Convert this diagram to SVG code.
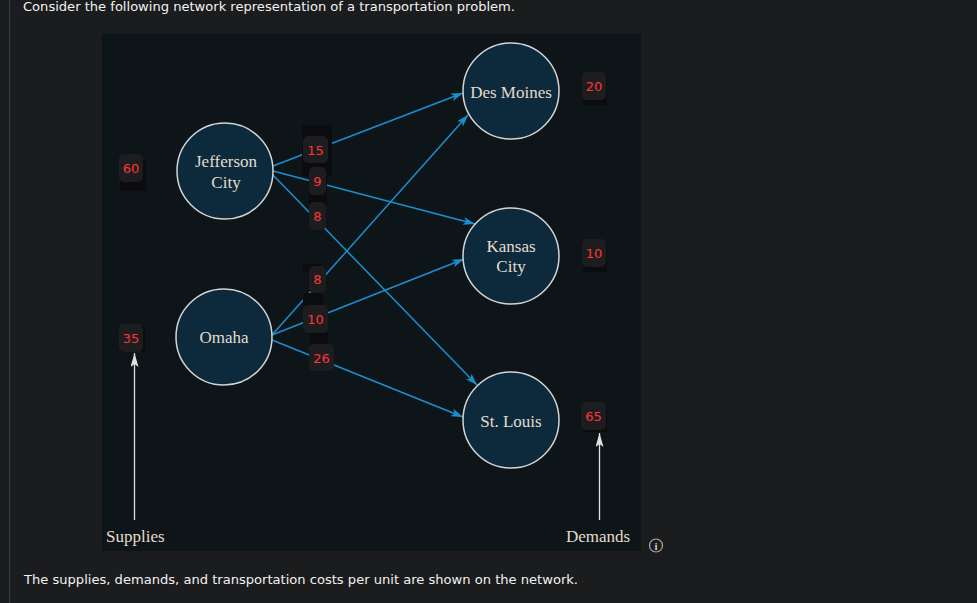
<svg xmlns="http://www.w3.org/2000/svg" width="977" height="603" viewBox="0 0 977 603">
<defs>
<style>
.page{fill:#1b1c1e}
.panel{fill:#0e1518}
.ui{font-family:"DejaVu Sans","Liberation Sans",sans-serif;font-size:13px;fill:#f2f2f2}
.node circle{fill:#0d2a3c;stroke:#d4d4d4;stroke-width:1.5}
.node text{font-family:"Liberation Serif",serif;font-size:17px;fill:#e4dccb;text-anchor:middle}
.edge{stroke:#1a8fd0;stroke-width:1.5;fill:none;marker-end:url(#ah)}
.lblbg{fill:#0b0c0d}
.lbl{fill:#1d1d1f}
.num{font-family:"DejaVu Sans","Liberation Sans",sans-serif;font-size:13px;fill:#ff3535;text-anchor:middle}
.gray{stroke:#e0e0e0;stroke-width:1.3;marker-end:url(#gh)}
.cap{font-family:"Liberation Serif",serif;font-size:17px;fill:#e4dccb}
</style>
<marker id="ah" viewBox="0 0 12 8" refX="12" refY="4" markerWidth="12" markerHeight="8" markerUnits="userSpaceOnUse" orient="auto">
<path d="M0,0 L12,4 L0,8 L3,4 z" fill="#1a8fd0"/>
</marker>
<marker id="gh" viewBox="0 0 14 8" refX="14" refY="4" markerWidth="14" markerHeight="8" markerUnits="userSpaceOnUse" orient="auto">
<path d="M0,0 L14,4 L0,8 L3,4 z" fill="#e0e0e0"/>
</marker>
</defs>
<rect class="page" x="0" y="0" width="977" height="603"/>
<line x1="9.5" y1="0" x2="9.5" y2="603" stroke="#3a3a3c" stroke-width="1"/>
<text class="ui" x="23" y="10.5" textLength="492" lengthAdjust="spacingAndGlyphs">Consider the following network representation of a transportation problem.</text>
<rect class="panel" x="102" y="34" width="539" height="517"/>

<g id="connectors">
<path class="edge" d="M273,166 L463,93"/>
<path class="edge" d="M273,171 L475,224"/>
<path class="edge" d="M273,175 L477,385"/>
<path class="edge" d="M272,335 L468,115"/>
<path class="edge" d="M272,335 L464,259"/>
<path class="edge" d="M272,340 L463,417"/>
<line class="gray" x1="134.5" y1="520" x2="134.5" y2="353"/>
<line class="gray" x1="599.5" y1="520" x2="599.5" y2="433"/>
</g>

<g id="edge-labels">
<g id="c-jc-dm"><rect class="lblbg" x="302" y="125" width="30" height="52"/><rect class="lbl" x="303" y="136" width="25" height="27" rx="5"/><text class="num" x="315.5" y="154.5">15</text></g>
<g id="c-jc-kc"><rect class="lblbg" x="309" y="172" width="18" height="33"/><rect class="lbl" x="309" y="167" width="17" height="28" rx="5"/><text class="num" x="317.5" y="186">9</text></g>
<g id="c-jc-sl"><rect class="lbl" x="309" y="202" width="17" height="28" rx="5"/><text class="num" x="317.5" y="221">8</text></g>
<g id="c-om-dm"><rect class="lblbg" x="303" y="264" width="18" height="8"/><rect class="lblbg" x="303" y="293" width="20" height="13"/><rect class="lbl" x="309" y="266" width="17" height="27" rx="5"/><text class="num" x="317.5" y="284">8</text></g>
<g id="c-om-kc"><rect class="lblbg" x="310" y="332" width="18" height="13"/><rect class="lbl" x="303" y="305" width="25" height="28" rx="5"/><text class="num" x="315.5" y="324">10</text></g>
<g id="c-om-sl"><rect class="lbl" x="309" y="344" width="25" height="27" rx="5"/><text class="num" x="321.5" y="362.5">26</text></g>
</g>

<g id="node-jefferson" class="node"><circle cx="225" cy="171" r="48"/><text x="226" y="167">Jefferson</text><text x="226" y="188">City</text></g>
<g id="node-omaha" class="node"><circle cx="224" cy="337" r="48"/><text x="224" y="343">Omaha</text></g>
<g id="node-desmoines" class="node"><circle cx="511" cy="91" r="48"/><text x="511" y="98">Des Moines</text></g>
<g id="node-kansas" class="node"><circle cx="511" cy="256" r="48"/><text x="511" y="252">Kansas</text><text x="511" y="272">City</text></g>
<g id="node-stlouis" class="node"><circle cx="511" cy="420" r="48"/><text x="511" y="427">St. Louis</text></g>

<g id="supply-60"><rect class="lblbg" x="120" y="160" width="26" height="31"/><rect class="lbl" x="119" y="154" width="24" height="28" rx="5"/><text class="num" x="131" y="173">60</text></g>
<g id="supply-35"><rect class="lblbg" x="121" y="326" width="24" height="26"/><rect class="lbl" x="119" y="324" width="24" height="28" rx="5"/><text class="num" x="131" y="343">35</text></g>
<g id="demand-20"><rect class="lblbg" x="583" y="76" width="24" height="29"/><rect class="lbl" x="582" y="72" width="24" height="28" rx="5"/><text class="num" x="594" y="91">20</text></g>
<g id="demand-10"><rect class="lblbg" x="583" y="243" width="24" height="29"/><rect class="lbl" x="582" y="239" width="24" height="28" rx="5"/><text class="num" x="594" y="258">10</text></g>
<g id="demand-65"><rect class="lblbg" x="583" y="405" width="24" height="27"/><rect class="lbl" x="581" y="402" width="25" height="28" rx="5"/><text class="num" x="593.5" y="421">65</text></g>

<text class="cap" x="106" y="542">Supplies</text>
<text class="cap" x="566" y="542">Demands</text>
<g id="info"><circle cx="656" cy="545.5" r="6.5" fill="none" stroke="#aaa" stroke-width="1.2"/><text x="656" y="549.5" font-family="Liberation Serif,serif" font-weight="bold" font-size="11" fill="#ccc" text-anchor="middle">i</text></g>

<text class="ui" x="24" y="584" textLength="554" lengthAdjust="spacingAndGlyphs">The supplies, demands, and transportation costs per unit are shown on the network.</text>
</svg>
